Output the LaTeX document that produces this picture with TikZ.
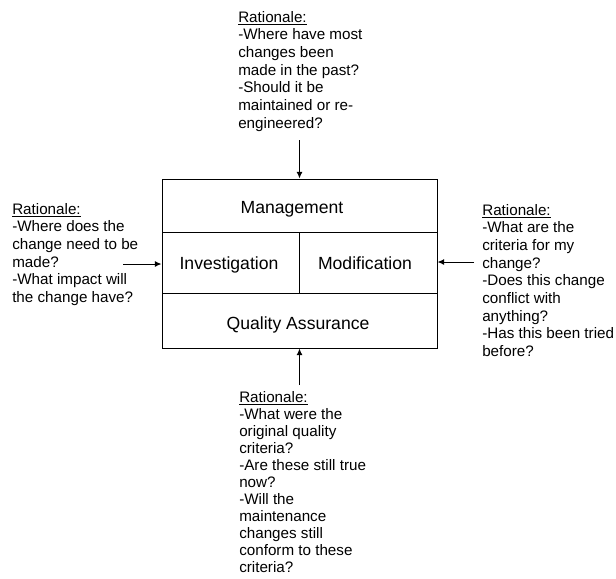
\documentclass[tikz,border=0pt]{standalone}
\usepackage{fontspec}
\setmainfont{Liberation Sans}
\usetikzlibrary{arrows.meta}
\begin{document}
\begin{tikzpicture}[x=0.75pt,y=-0.75pt,
  cell/.style={draw,line width=0.75pt,inner sep=0pt},
  lbl/.style={anchor=base,inner sep=0pt,font=\fontsize{13.2}{15}\selectfont},
  note/.style={anchor=north west,align=left,inner sep=0pt,font=\fontsize{11.4}{13.25}\selectfont},
  arr/.style={line width=0.75pt,-{Latex[length=5pt,width=4.5pt]}}]
\useasboundingbox (0,0) rectangle (616,578);
\node[cell,minimum width=206.25pt,minimum height=39.75pt] (mgmt) at (299.5,205.5) {};
\node[cell,minimum width=102.75pt,minimum height=45.75pt] (inv) at (230.5,262.5) {};
\node[cell,minimum width=103.5pt,minimum height=45.75pt] (mod) at (368,262.5) {};
\node[cell,minimum width=206.25pt,minimum height=41.25pt] (qa) at (299.5,320.5) {};
\node[lbl] (mgmtt) at (292,213.3) {Management};
\node[lbl] (invt) at (229,269.3) {Investigation};
\node[lbl] (modt) at (365,269.3) {Modification};
\node[lbl] (qat) at (298,329.3) {Quality Assurance};
\node[note] (top) at (238,11) {\underline{Rationale:}\\-Where have most\\changes been\\made in the past?\\-Should it be\\maintained or re-\\engineered?};
\node[note] (left) at (12,203) {\underline{Rationale:}\\-Where does the\\change need to be\\made?\\-What impact will\\the change have?};
\node[note] (right) at (482,204) {\underline{Rationale:}\\-What are the\\criteria for my\\change?\\-Does this change\\conflict with\\anything?\\-Has this been tried\\before?};
\node[note,font=\fontsize{11.4}{12.8}\selectfont] (bot) at (239,391) {\underline{Rationale:}\\-What were the\\original quality\\criteria?\\-Are these still true\\now?\\-Will the\\maintenance\\changes still\\conform to these\\criteria?};
\coordinate (ta) at (299.5,140);
\coordinate (la) at (123,264);
\coordinate (ra) at (474,262);
\coordinate (ba) at (299.5,385);
\draw[arr] (ta) -- (ta |- mgmt.north);
\draw[arr] (la) -- (la -| inv.west);
\draw[arr] (ra) -- (ra -| mod.east);
\draw[arr] (ba) -- (ba |- qa.south);
\end{tikzpicture}
\end{document}
